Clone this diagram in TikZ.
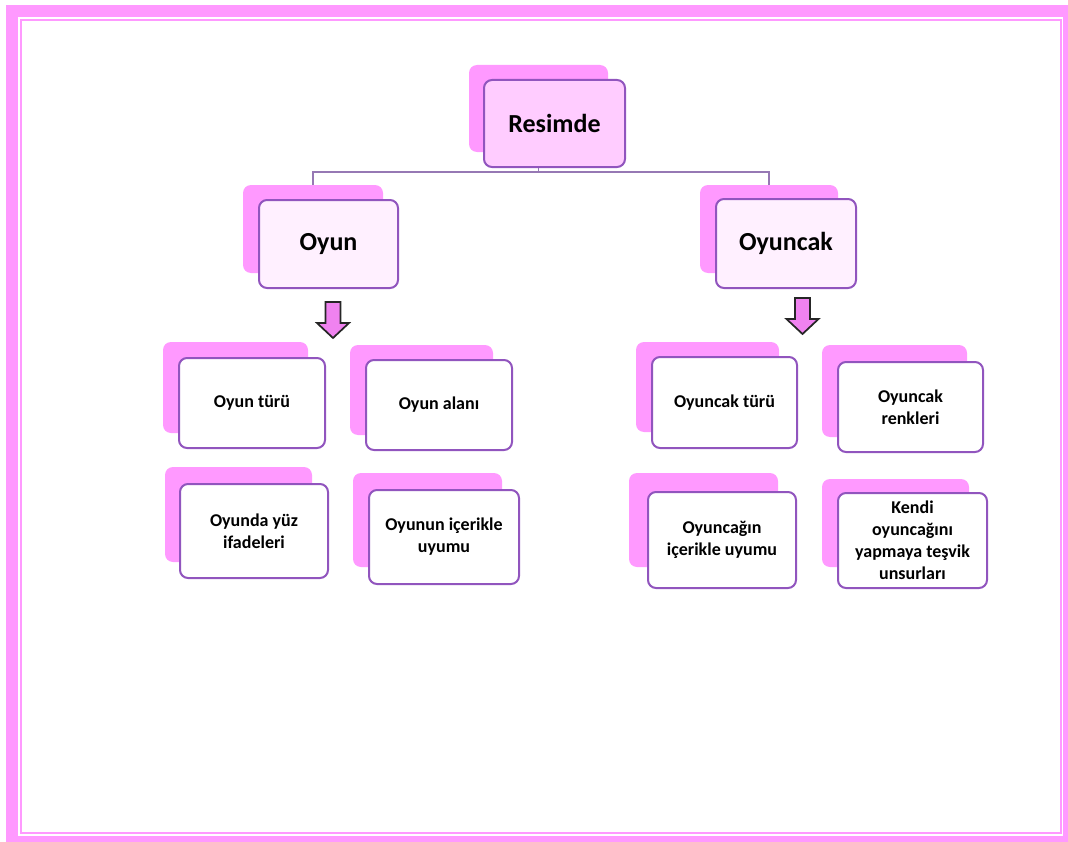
\documentclass[tikz,border=0pt]{standalone}
\usepackage{fontspec}
\setmainfont{Carlito}
\definecolor{pinkband}{RGB}{255,153,255}
\definecolor{shadowpink}{RGB}{255,153,255}
\definecolor{boxline}{RGB}{145,85,190}
\definecolor{connline}{RGB}{150,120,180}
\definecolor{topfill}{RGB}{255,204,255}
\definecolor{midfill}{RGB}{255,240,255}
\definecolor{arrowfill}{RGB}{240,130,240}
\tikzset{
  back/.style={fill=shadowpink, draw=none, rounded corners=6pt, inner sep=0pt},
  front/.style={draw=boxline, line width=1.5pt, rounded corners=6pt, inner sep=0pt, align=center, text=black},
  bigtext/.style={font=\bfseries\fontsize{19.5pt}{23pt}\selectfont},
  smalltext/.style={font=\bfseries\fontsize{13.5pt}{16.5pt}\selectfont},
  conn/.style={draw=connline, line width=1.2pt},
  blockarrow/.style={fill=arrowfill, draw=black!85, line width=1.3pt, line join=miter},
}
\begin{document}
\begin{tikzpicture}[x=0.75pt,y=-0.75pt]
\useasboundingbox (0,0) rectangle (1068,842);
% page border
\draw[pinkband, line width=9pt] (12,11) rectangle (1069,842);
\draw[pinkband, line width=1.5pt] (21,20) rectangle (1061,833);

% shadow boxes
\node[back, minimum width=139*0.75pt, minimum height=87*0.75pt] (Rs) at (538.5,108.5) {};
\node[back, minimum width=140*0.75pt, minimum height=88*0.75pt] (Os) at (313,229) {};
\node[back, minimum width=138*0.75pt, minimum height=88*0.75pt] (Ks) at (769,229) {};

\node[back, minimum width=145*0.75pt, minimum height=91*0.75pt] (a1s) at (235.5,387.5) {};
\node[back, minimum width=143*0.75pt, minimum height=90*0.75pt] (a2s) at (421.5,390) {};
\node[back, minimum width=147*0.75pt, minimum height=95*0.75pt] (a3s) at (238.5,514.5) {};
\node[back, minimum width=149*0.75pt, minimum height=94*0.75pt] (a4s) at (427.5,520) {};

\node[back, minimum width=143*0.75pt, minimum height=90*0.75pt] (b1s) at (707.5,387) {};
\node[back, minimum width=145*0.75pt, minimum height=92*0.75pt] (b2s) at (894.5,391) {};
\node[back, minimum width=149*0.75pt, minimum height=94*0.75pt] (b3s) at (703.5,520) {};
\node[back, minimum width=147*0.75pt, minimum height=88*0.75pt] (b4s) at (895.5,523) {};

% connectors
\draw[conn] (Rs.south) -- ++(0,20) coordinate (j);
\draw[conn] (j) -| (Os.north);
\draw[conn] (j) -| (Ks.north);

% front boxes
\node[front, bigtext, fill=topfill, minimum width=141*0.75pt, minimum height=87*0.75pt] (R) at (554.5,123.5) {Resimde};
\node[front, bigtext, fill=midfill, minimum width=139*0.75pt, minimum height=88*0.75pt] (O) at (328.5,244) {Oyun};
\node[front, bigtext, fill=midfill, minimum width=140*0.75pt, minimum height=89*0.75pt] (K) at (786,243.5) {Oyuncak};

\node[front, smalltext, fill=white, minimum width=146*0.75pt, minimum height=90*0.75pt] (a1) at (252,403) {Oyun türü};
\node[front, smalltext, fill=white, minimum width=146*0.75pt, minimum height=90*0.75pt] (a2) at (439,405) {Oyun alanı};
\node[front, smalltext, fill=white, minimum width=148*0.75pt, minimum height=94*0.75pt] (a3) at (254,531) {Oyunda yüz\\ifadeleri};
\node[front, smalltext, fill=white, minimum width=150*0.75pt, minimum height=94*0.75pt] (a4) at (444,537) {Oyunun içerikle\\uyumu};

\node[front, smalltext, fill=white, minimum width=145*0.75pt, minimum height=91*0.75pt] (b1) at (724.5,402.5) {Oyuncak türü};
\node[front, smalltext, fill=white, minimum width=145*0.75pt, minimum height=90*0.75pt] (b2) at (910.5,407) {Oyuncak\\renkleri};
\node[front, smalltext, fill=white, minimum width=148*0.75pt, minimum height=96*0.75pt] (b3) at (722,540) {Oyuncağın\\içerikle uyumu};
\node[front, smalltext, fill=white, minimum width=149*0.75pt, minimum height=95*0.75pt] (b4) at (912.5,540.5) {Kendi\\oyuncağını\\yapmaya teşvik\\unsurları};

% block arrows
\draw[blockarrow] (325.5,302) -- (340.5,302) -- (340.5,323) -- (349,323) -- (333,338) -- (317,323) -- (325.5,323) -- cycle;
\draw[blockarrow] (795,298) -- (810,298) -- (810,319) -- (818.5,319) -- (802.5,334) -- (786.5,319) -- (795,319) -- cycle;
\end{tikzpicture}
\end{document}
